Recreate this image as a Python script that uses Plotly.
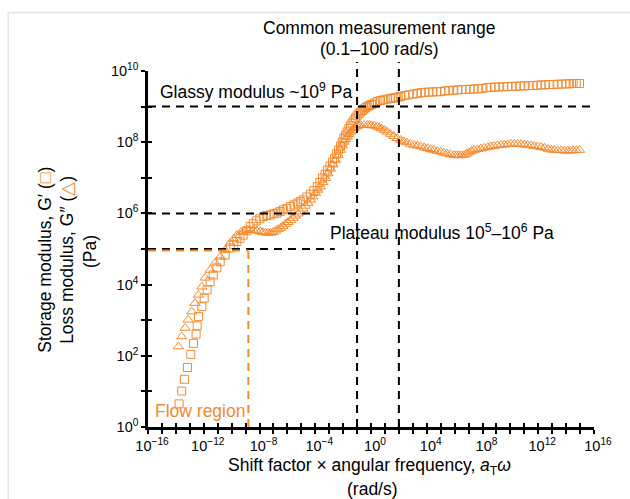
import numpy as np
import plotly.graph_objects as go

# ---------------- data (log10 values) ----------------
# Storage modulus G' (squares): log10(aT*omega [rad/s]) and log10(G' [Pa])
Gp_log_w = [-13.77, -13.58, -13.39, -13.17, -12.93, -12.74, -12.55, -12.47, -12.38, -12.14,
            -11.97, -11.76, -11.54, -11.32, -11.06, -10.82, -10.46, -10.10, -9.85, -9.62,
            -9.40, -9.17, -8.92, -8.66, -8.45, -8.23, -7.98, -7.73, -7.48, -7.22,
            -6.98, -6.74, -6.52, -6.29, -6.04, -5.78, -5.53, -5.28, -5.07, -4.85,
            -4.60, -4.35, -4.10, -3.86, -3.67, -3.48, -3.30, -3.12, -2.94, -2.76,
            -2.61, -2.47, -2.33, -2.19, -2.06, -1.94, -1.82, -1.71, -1.59, -1.47,
            -1.35, -1.23, -1.11, -1.00, -0.87, -0.75, -0.62, -0.50, -0.38, -0.27,
            -0.11, 0.04, 0.25, 0.45, 0.68, 0.91, 1.16, 1.41, 1.59, 1.77,
            1.95, 2.13, 2.42, 2.71, 3.02, 3.33, 3.60, 3.86, 4.15, 4.43,
            4.72, 5.01, 5.30, 5.58, 5.90, 6.21, 6.51, 6.81, 7.10, 7.38,
            7.67, 7.96, 8.28, 8.60, 8.89, 9.18, 9.50, 9.81, 10.10, 10.40,
            10.70, 11.00, 11.32, 11.63, 11.92, 12.20, 12.49, 12.78, 13.09, 13.40,
            13.70, 14.00, 14.25, 14.50, 14.73, 14.96]
Gp_log = [0.65, 1.01, 1.34, 1.67, 2.04, 2.35, 2.61, 2.84, 3.10, 3.38,
          3.62, 3.85, 4.08, 4.27, 4.47, 4.64, 4.83, 5.03, 5.12, 5.21,
          5.30, 5.39, 5.51, 5.63, 5.71, 5.79, 5.85, 5.91, 5.94, 5.96,
          5.99, 6.01, 6.05, 6.10, 6.14, 6.19, 6.24, 6.29, 6.33, 6.38,
          6.46, 6.54, 6.64, 6.75, 6.87, 6.99, 7.10, 7.22, 7.33, 7.44,
          7.55, 7.67, 7.78, 7.89, 8.00, 8.12, 8.20, 8.29, 8.38, 8.46,
          8.54, 8.62, 8.68, 8.74, 8.80, 8.85, 8.89, 8.93, 8.97, 9.00,
          9.03, 9.06, 9.10, 9.14, 9.17, 9.19, 9.21, 9.23, 9.24, 9.25,
          9.27, 9.28, 9.31, 9.33, 9.35, 9.37, 9.39, 9.40, 9.41, 9.41,
          9.42, 9.42, 9.44, 9.45, 9.46, 9.47, 9.48, 9.48, 9.49, 9.49,
          9.50, 9.51, 9.53, 9.54, 9.55, 9.55, 9.56, 9.56, 9.57, 9.57,
          9.58, 9.58, 9.59, 9.59, 9.60, 9.61, 9.61, 9.62, 9.62, 9.63,
          9.63, 9.64, 9.64, 9.65, 9.65, 9.65]

# Loss modulus G'' (triangles)
Gpp_log_w = [-13.82, -13.58, -13.34, -13.12, -12.86, -12.62, -12.38, -12.14, -11.90, -11.54,
             -11.18, -10.82, -10.46, -10.10, -9.85, -9.62, -9.31, -9.10, -8.90, -8.68,
             -8.45, -8.20, -7.94, -7.76, -7.58, -7.40, -7.22, -7.04, -6.86, -6.68,
             -6.50, -6.32, -6.14, -5.96, -5.78, -5.60, -5.42, -5.24, -5.06, -4.88,
             -4.71, -4.53, -4.35, -4.17, -3.99, -3.81, -3.63, -3.45, -3.27, -3.09,
             -2.91, -2.73, -2.55, -2.37, -2.19, -2.06, -1.94, -1.82, -1.71, -1.59,
             -1.47, -1.35, -1.23, -1.11, -1.00, -0.87, -0.75, -0.51, -0.27, -0.11,
             0.04, 0.25, 0.45, 0.60, 0.76, 0.97, 1.17, 1.40, 1.63, 1.88,
             2.13, 2.35, 2.56, 2.83, 3.09, 3.33, 3.57, 3.81, 4.05, 4.28,
             4.50, 4.76, 5.01, 5.23, 5.44, 5.70, 5.96, 6.13, 6.30, 6.49,
             6.68, 6.85, 7.02, 7.21, 7.40, 7.64, 7.88, 8.12, 8.37, 8.60,
             8.82, 9.07, 9.32, 9.57, 9.81, 10.05, 10.28, 10.52, 10.76, 11.00,
             11.24, 11.47, 11.70, 11.95, 12.20, 12.45, 12.71, 12.93, 13.16, 13.40,
             13.64, 13.88, 14.12, 14.31, 14.50, 14.73, 14.96]
Gpp_log = [2.26, 2.54, 2.78, 3.01, 3.24, 3.48, 3.71, 3.94, 4.19, 4.41,
           4.61, 4.78, 4.97, 5.17, 5.28, 5.39, 5.48, 5.51, 5.53, 5.54,
           5.53, 5.51, 5.49, 5.47, 5.46, 5.45, 5.45, 5.47, 5.51, 5.55,
           5.59, 5.64, 5.70, 5.75, 5.81, 5.87, 5.93, 5.99, 6.05, 6.13,
           6.21, 6.29, 6.38, 6.47, 6.57, 6.66, 6.75, 6.87, 6.99, 7.12,
           7.25, 7.37, 7.50, 7.64, 7.78, 7.90, 8.01, 8.08, 8.15, 8.22,
           8.29, 8.34, 8.39, 8.43, 8.46, 8.47, 8.48, 8.48, 8.48, 8.48,
           8.47, 8.46, 8.44, 8.41, 8.38, 8.34, 8.29, 8.23, 8.17, 8.11,
           8.06, 8.02, 7.99, 7.95, 7.92, 7.90, 7.88, 7.85, 7.83, 7.80,
           7.78, 7.75, 7.73, 7.70, 7.68, 7.66, 7.64, 7.63, 7.63, 7.63,
           7.64, 7.67, 7.71, 7.75, 7.78, 7.80, 7.82, 7.84, 7.86, 7.88,
           7.89, 7.91, 7.92, 7.93, 7.94, 7.95, 7.95, 7.95, 7.94, 7.93,
           7.92, 7.91, 7.89, 7.88, 7.86, 7.84, 7.81, 7.79, 7.78, 7.77,
           7.77, 7.76, 7.76, 7.76, 7.77, 7.77, 7.78]

# reference levels / ranges
glassy_modulus = 1e9
plateau_low, plateau_high = 1e5, 1e6
measure_lo, measure_hi = 0.1, 100.0
flow_region_w_max = 10 ** -8.8
flow_region_G_max = 10 ** 4.96
plateau_lines_w_end = 10 ** -2.6

# axis ticks
x_tick_exps = list(range(-16, 17))
x_label_exps = list(range(-16, 17, 4))
y_tick_exps = list(range(0, 11))
y_label_exps = list(range(0, 11, 2))

ORANGE = "rgb(244,138,45)"
FONT = "Liberation Sans, Arial, sans-serif"
TS = 17.5


def pow_label(e):
    s = str(e).replace("-", "\u2212")
    return "10<sup>" + s + "</sup>"


x_all = [10.0 ** e for e in x_tick_exps]
x_major = [10.0 ** e for e in x_label_exps]
x_major_text = [pow_label(e) for e in x_label_exps]
y_all = [10.0 ** e for e in y_tick_exps]
y_major = [10.0 ** e for e in y_label_exps]
y_major_text = [pow_label(e) for e in y_label_exps]
y_sub = [m * 10.0 ** e for e in range(0, 10) for m in range(2, 10)]

fig = go.Figure()

fig.add_trace(go.Scatter(
    x=np.power(10.0, Gp_log_w), y=np.power(10.0, Gp_log), mode="markers",
    marker=dict(symbol="square-open", size=8, color=ORANGE, line=dict(width=1.0, color=ORANGE)),
    showlegend=False, cliponaxis=False, name="G'"))
fig.add_trace(go.Scatter(
    x=np.power(10.0, Gpp_log_w), y=np.power(10.0, Gpp_log), mode="markers",
    marker=dict(symbol="triangle-up-open", size=9, color=ORANGE, line=dict(width=1.0, color=ORANGE)),
    showlegend=False, cliponaxis=False, name="G''"))
# invisible trace for overlay axes (inner tick marks)
fig.add_trace(go.Scatter(x=[1], y=[1], xaxis="x2", yaxis="y2", mode="markers",
                         marker=dict(opacity=0), showlegend=False, hoverinfo="skip"))

DASH = "8px,6px"
shapes = []
shapes.append(dict(type="line", xref="x", yref="y", x0=1e-16, x1=1e16, y0=glassy_modulus, y1=glassy_modulus,
                   line=dict(color="black", width=2, dash=DASH), layer="above"))
for lv in (plateau_high, plateau_low):
    shapes.append(dict(type="line", xref="x", yref="y", x0=1e-16, x1=plateau_lines_w_end, y0=lv, y1=lv,
                       line=dict(color="black", width=2, dash=DASH), layer="above"))
for xv in (measure_lo, measure_hi):
    shapes.append(dict(type="line", xref="x", yref="paper", x0=xv, x1=xv, y0=0, y1=1.025,
                       line=dict(color="black", width=2, dash=DASH), layer="above"))
# flow region box
shapes.append(dict(type="line", xref="x", yref="y", x0=1e-16, x1=flow_region_w_max,
                   y0=flow_region_G_max, y1=flow_region_G_max,
                   line=dict(color=ORANGE, width=2, dash=DASH), layer="above"))
shapes.append(dict(type="line", xref="x", yref="y", x0=flow_region_w_max, x1=flow_region_w_max,
                   y0=1, y1=flow_region_G_max, line=dict(color=ORANGE, width=2, dash=DASH), layer="above"))
shapes.append(dict(type="line", xref="paper", yref="y", x0=-0.0025, x1=-0.0025,
                   y0=1, y1=flow_region_G_max, line=dict(color=ORANGE, width=2, dash=DASH), layer="below"))
# light frame around picture
shapes.append(dict(type="rect", xref="paper", yref="paper", x0=-0.3135, x1=1.3, y0=-0.5, y1=1.1643,
                   line=dict(color="#e4e4e4", width=1.5), layer="below"))

annotations = [
    dict(text="Common measurement range", x=0.519, y=1.122),
    dict(text="(0.1\u2013100 rad/s)", x=0.519, y=1.062),
    dict(text="Glassy modulus ~10<sup>9</sup> Pa", x=0.243, y=0.944),
    dict(text="Plateau modulus 10<sup>5</sup>\u201310<sup>6</sup> Pa", x=0.660, y=0.548),
    dict(text="Flow region", x=0.117, y=0.045, font=dict(family=FONT, size=TS, color=ORANGE)),
    dict(text="Shift factor \u00d7 angular frequency, <i>a</i><sub>T</sub><i>\u03c9</i>", x=0.497, y=-0.112),
    dict(text="(rad/s)", x=0.504, y=-0.174),
    dict(text="Storage modulus, G\u2032 (<span style='color:" + ORANGE + "'>\u25a1</span>)",
         x=-0.2315, y=0.469, textangle=-90),
    dict(text="Loss modulus, G\u2033 (<span style='color:" + ORANGE + "'>\u25b3</span>)",
         x=-0.182, y=0.469, textangle=-90),
    dict(text="(Pa)", x=-0.130, y=0.4916, textangle=-90),
]
for a in annotations:
    a.setdefault("font", dict(family=FONT, size=TS, color="black"))
    a.update(xref="paper", yref="paper", showarrow=False, xanchor="center", yanchor="middle")

tickfont = dict(family=FONT, size=14.5, color="black")

fig.update_layout(
    width=630, height=499,
    margin=dict(l=148, r=36, t=71, b=72),
    paper_bgcolor="white", plot_bgcolor="white",
    shapes=shapes, annotations=annotations,
    xaxis=dict(type="log", range=[-16, 16], tickmode="array", tickvals=x_major, ticktext=x_major_text,
               ticks="outside", ticklen=4, tickwidth=2, tickcolor="black",
               showline=True, linewidth=2.5, linecolor="black", showgrid=False, zeroline=False,
               tickfont=tickfont, ticklabelshift=4,
               minor=dict(tickmode="array", tickvals=x_all, ticks="outside", ticklen=4, tickwidth=2,
                          tickcolor="black", showgrid=False)),
    yaxis=dict(type="log", range=[0, 10], tickmode="array", tickvals=y_major, ticktext=y_major_text,
               ticks="outside", ticklen=4, tickwidth=2, tickcolor="black",
               showline=True, linewidth=2.5, linecolor="black", showgrid=False, zeroline=False,
               tickfont=tickfont,
               minor=dict(tickmode="array", tickvals=y_all, ticks="outside", ticklen=4, tickwidth=2,
                          tickcolor="black", showgrid=False)),
    xaxis2=dict(type="log", range=[-16, 16], overlaying="x", anchor="y", side="bottom",
                tickmode="array", tickvals=x_all, ticks="inside", ticklen=4, tickwidth=2,
                tickcolor="black", showticklabels=False, showline=False, showgrid=False, zeroline=False),
    yaxis2=dict(type="log", range=[0, 10], overlaying="y", anchor="x", side="left",
                tickmode="array", tickvals=y_all, ticks="inside", ticklen=4, tickwidth=2,
                tickcolor="black", showticklabels=False, showline=False, showgrid=False, zeroline=False,
                minor=dict(tickmode="array", tickvals=y_sub, ticks="outside", ticklen=2.5, tickwidth=1,
                           tickcolor="black", showgrid=False)),
)

fig.write_html("out.html")
